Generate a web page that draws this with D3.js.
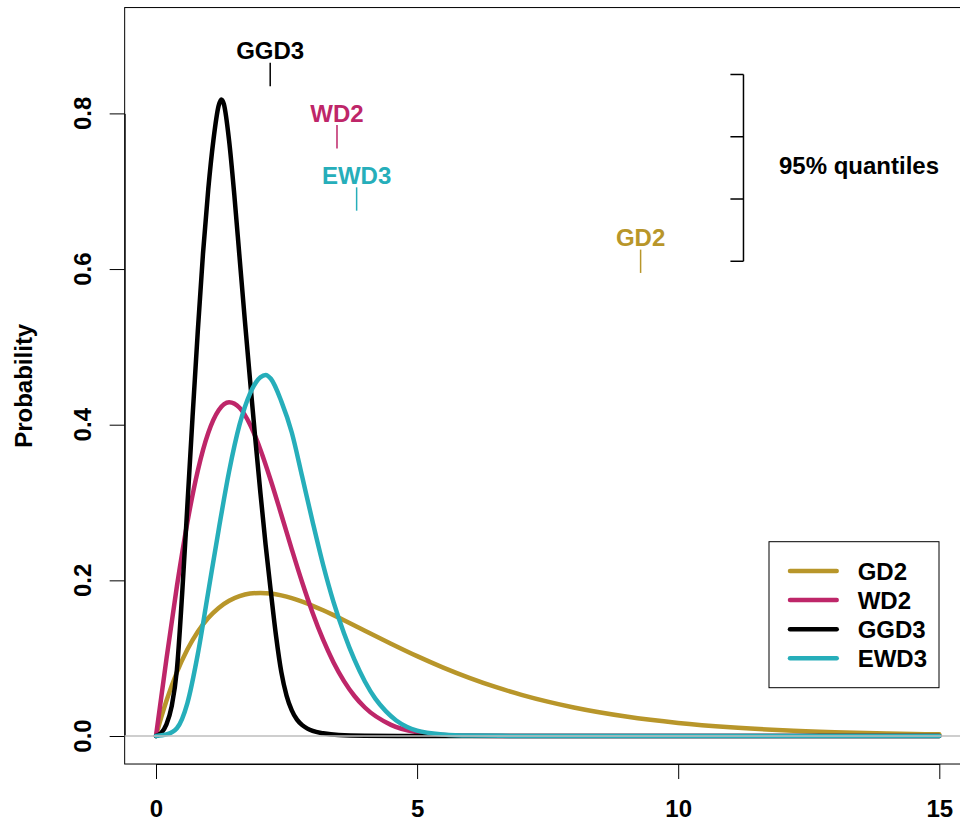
<!DOCTYPE html>
<html>
<head>
<meta charset="utf-8">
<script src="https://cdn.jsdelivr.net/npm/d3@7"></script>
<style>
  body { margin: 0; background: #fff; }
  svg { display: block; }
  text { font-family: "Liberation Sans", Arial, Helvetica, sans-serif; font-weight: bold; }
</style>
</head>
<body>
<svg id="chart" width="960" height="822"></svg>
<script>
// ---------------- data ----------------
const seriesNames  = ["GD2", "WD2", "GGD3", "EWD3"];
const seriesColors = ["#B8962A", "#BE2669", "#000000", "#26AEBA"];

// density curves: [x, probability]
const gd2 = [[0,0],[0.1,0.0238],[0.2,0.0452],[0.4,0.0819],[0.6,0.1111],[0.8,0.1341],[1.0,0.1516],
  [1.2,0.1646],[1.4,0.1738],[1.6,0.1797],[1.8,0.1830],[2.0,0.1839],[2.2,0.1831],[2.4,0.1807],
  [2.6,0.1772],[2.8,0.1726],[3.0,0.1673],[3.2,0.1615],[3.4,0.1553],[3.6,0.1488],[3.8,0.1421],
  [4.0,0.1353],[4.5,0.1186],[5,0.1026],[5.5,0.0879],[6,0.0747],[6.5,0.0630],[7,0.0529],
  [7.5,0.0441],[8,0.0366],[9,0.0250],[10,0.0168],[11,0.0112],[12,0.0074],[13,0.0049],
  [14,0.0032],[15,0.0021]];

const wd2 = [[0,0],[0.2,0.0990],[0.4,0.1922],[0.6,0.2742],[0.8,0.3409],[1.0,0.3894],[1.2,0.4186],
  [1.4,0.4288],[1.6,0.4218],[1.8,0.4004],[2.0,0.3679],[2.2,0.3280],[2.4,0.2843],[2.6,0.2399],
  [2.8,0.1972],[3.0,0.1581],[3.2,0.1237],[3.4,0.0945],[3.6,0.0705],[3.8,0.0514],[4.0,0.0366],
  [4.5,0.0143],[5,0.0048],[5.5,0.0014],[6,0.0004],[7,0],[10,0],[15,0]];

const ggd3 = [[0,0],[0.1,0.004],[0.2,0.015],[0.3,0.038],[0.4,0.085],[0.5,0.182],[0.6,0.295],
  [0.7,0.410],[0.8,0.520],[0.9,0.620],[1.0,0.702],[1.1,0.766],[1.2,0.810],[1.25,0.818],
  [1.3,0.812],[1.4,0.765],[1.5,0.695],[1.6,0.615],[1.7,0.535],[1.8,0.458],[1.9,0.383],
  [2.0,0.312],[2.1,0.245],[2.2,0.185],[2.3,0.128],[2.4,0.082],[2.5,0.052],[2.6,0.033],
  [2.7,0.021],[2.8,0.014],[2.9,0.0095],[3.0,0.0065],[3.2,0.0035],[3.5,0.0012],[4.0,0.0003],
  [5,0],[10,0],[15,0]];

const ewd3 = [[0,0],[0.2,0.002],[0.4,0.010],[0.6,0.042],[0.8,0.105],[1.0,0.185],[1.2,0.265],
  [1.4,0.340],[1.6,0.400],[1.8,0.440],[2.0,0.461],[2.1,0.464],[2.2,0.459],[2.4,0.430],
  [2.6,0.390],[2.8,0.333],[3.0,0.275],[3.2,0.220],[3.4,0.172],[3.6,0.132],[3.8,0.098],
  [4.0,0.070],[4.2,0.048],[4.4,0.032],[4.6,0.020],[4.8,0.012],[5.0,0.007],[5.5,0.002],
  [6.0,0.0005],[7,0.0001],[8,0],[15,0]];

const seriesData = [gd2, wd2, ggd3, ewd3];

// 95% quantile markers (x position) and the level at which each is drawn
const quantileX     = [9.28, 3.466, 2.187, 3.842];
const quantileLevel = [0.595, 0.755, 0.835, 0.675];

// bracket for the "95% quantiles" note
const bracketLevels = [0.61, 0.69, 0.77, 0.85];
const bracketX = 11.25, bracketTickX = 11.0;
const noteText = "95% quantiles";

const xTicks = [0, 5, 10, 15];
const yTicks = [0, 0.2, 0.4, 0.6, 0.8];
const yLabel = "Probability";

// ---------------- drawing ----------------
const svg = d3.select("#chart");
const x = d3.scaleLinear().domain([0, 15]).range([156, 939.3]);
const y = d3.scaleLinear().domain([0, 0.8]).range([736, 113.4]);
const FS = 24;

// plot box (R style, xlim/ylim extended 4%)
svg.append("rect")
  .attr("x", x(-0.6)).attr("y", y(0.936))
  .attr("width", x(15.6) - x(-0.6)).attr("height", y(-0.036) - y(0.936))
  .attr("fill", "none").attr("stroke", "#000").attr("stroke-width", 1);

// x axis
const xAxis = svg.append("g")
  .attr("transform", `translate(0,${y(-0.036)})`)
  .call(d3.axisBottom(x).tickValues(xTicks).tickSize(15).tickSizeOuter(0).tickPadding(21)
        .tickFormat(d3.format("d")));
xAxis.selectAll("text").attr("font-size", FS).attr("fill", "#000")
  .style("font-family", '"Liberation Sans", Arial, sans-serif').style("font-weight", "bold");
xAxis.selectAll("line,path").attr("stroke", "#000");

// y axis
const yAxis = svg.append("g")
  .attr("transform", `translate(${x(-0.6)},0)`)
  .call(d3.axisLeft(y).tickValues(yTicks).tickSize(15).tickSizeOuter(0).tickFormat(""));
yAxis.selectAll("line,path").attr("stroke", "#000");
svg.append("g").selectAll("text").data(yTicks).join("text")
  .attr("transform", d => `translate(90.5,${y(d)}) rotate(-90)`)
  .attr("text-anchor", "middle").attr("font-size", FS).attr("fill", "#000")
  .text(d => d3.format(".1f")(d));

// y label
svg.append("text")
  .attr("transform", `translate(32,${(y(0.936) + y(-0.036)) / 2}) rotate(-90)`)
  .attr("text-anchor", "middle").attr("font-size", FS).attr("fill", "#000")
  .text(yLabel);

// curves
const line = d3.line().x(d => x(d[0])).y(d => y(d[1])).curve(d3.curveMonotoneX);
seriesData.forEach((s, i) => {
  svg.append("path").datum(s).attr("d", line)
    .attr("fill", "none").attr("stroke", seriesColors[i]).attr("stroke-width", 4.5)
    .attr("stroke-linecap", "round").attr("stroke-linejoin", "round");
});

// reference line at 0
svg.append("line")
  .attr("x1", x(-0.6)).attr("x2", x(15.6)).attr("y1", y(0)).attr("y2", y(0))
  .attr("stroke", "#BEBEBE").attr("stroke-width", 1.5);

// quantile markers
seriesNames.forEach((name, i) => {
  const qx = x(quantileX[i]);
  const top = y(quantileLevel[i] + 0.03), bot = y(quantileLevel[i]);
  svg.append("line").attr("x1", qx).attr("x2", qx).attr("y1", top).attr("y2", bot)
    .attr("stroke", seriesColors[i]).attr("stroke-width", 1.5);
  svg.append("text").attr("x", qx).attr("y", top - 3.5)
    .attr("text-anchor", "middle").attr("font-size", FS).attr("fill", seriesColors[i])
    .text(name);
});

// bracket
const bx = x(bracketX), btx = x(bracketTickX);
svg.append("line").attr("x1", bx).attr("x2", bx)
  .attr("y1", y(d3.min(bracketLevels))).attr("y2", y(d3.max(bracketLevels)))
  .attr("stroke", "#000").attr("stroke-width", 1.5);
svg.append("g").selectAll("line").data(bracketLevels).join("line")
  .attr("x1", btx).attr("x2", bx).attr("y1", d => y(d)).attr("y2", d => y(d))
  .attr("stroke", "#000").attr("stroke-width", 1.5);
svg.append("text").attr("x", x(11.93)).attr("y", y(0.733)).attr("dy", "0.36em")
  .attr("font-size", FS).attr("fill", "#000").text(noteText);

// legend
const lg = svg.append("g").attr("transform", "translate(769,541.7)");
lg.append("rect").attr("width", 170).attr("height", 146).attr("fill", "#fff")
  .attr("stroke", "#000").attr("stroke-width", 1);
seriesNames.forEach((name, i) => {
  const ry = 29.3 + i * 29.1;
  lg.append("line").attr("x1", 21).attr("x2", 67.7).attr("y1", ry).attr("y2", ry)
    .attr("stroke", seriesColors[i]).attr("stroke-width", 4.5).attr("stroke-linecap", "round");
  lg.append("text").attr("x", 88.7).attr("y", ry).attr("dy", "0.36em")
    .attr("font-size", FS).attr("fill", "#000").text(name);
});
</script>
</body>
</html>
